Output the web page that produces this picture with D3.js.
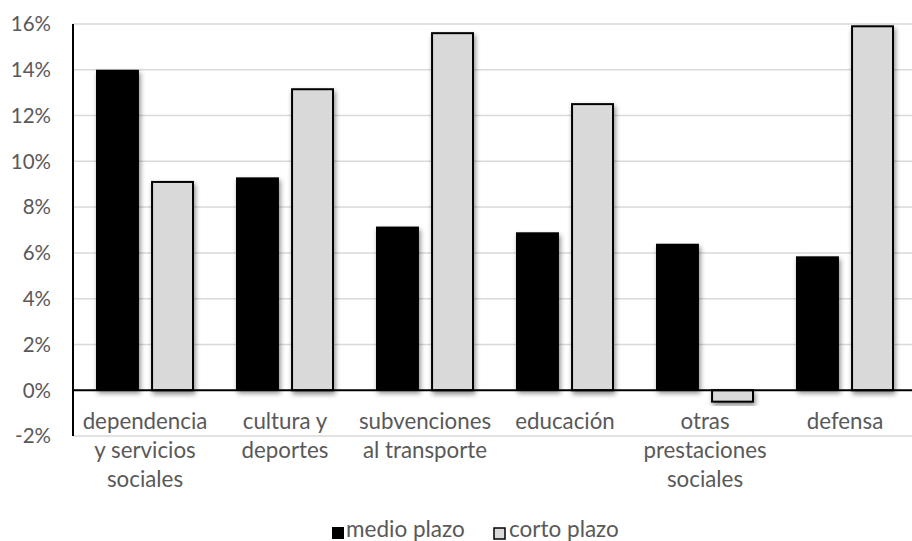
<!DOCTYPE html>
<html>
<head>
<meta charset="utf-8">
<script src="https://cdn.jsdelivr.net/npm/d3@7/dist/d3.min.js"></script>
<style>
  body { margin: 0; background: #fff; }
  text { font-family: Lato, "Open Sans", sans-serif; fill: #595959; }
</style>
</head>
<body>
<div id="chart"></div>
<script>
// data
const categories = [
  ["dependencia", "y servicios", "sociales"],
  ["cultura y", "deportes"],
  ["subvenciones", "al transporte"],
  ["educación"],
  ["otras", "prestaciones", "sociales"],
  ["defensa"]
];
const seriesNames = ["medio plazo", "corto plazo"];
const medioPlazo = [14.0, 9.3, 7.15, 6.9, 6.4, 5.85];
const cortoPlazo = [9.1, 13.15, 15.6, 12.5, -0.5, 15.9];
const yTicks = [-2, 0, 2, 4, 6, 8, 10, 12, 14, 16];

const W = 912, H = 541;
const margin = {top: 24, right: 0, bottom: 105, left: 73};

const svg = d3.select("#chart").append("svg")
  .attr("width", W).attr("height", H);

const defs = svg.append("defs");
const f = defs.append("filter").attr("id", "shadow")
  .attr("x", "-20%").attr("y", "-20%").attr("width", "150%").attr("height", "150%");
f.append("feDropShadow").attr("dx", 1.5).attr("dy", 3).attr("stdDeviation", 2.5)
  .attr("flood-color", "#000").attr("flood-opacity", 0.45);

var y = d3.scaleLinear().domain([-2, 16]).range([436, 24]);
var x0 = d3.scaleBand().domain(d3.range(categories.length))
  .range([margin.left, margin.left + 140 * 6]);
var x1 = d3.scaleBand().domain(seriesNames).range([23, 121]).paddingInner(0.22);

// gridlines
svg.append("g").selectAll("line").data(yTicks).enter().append("line")
  .attr("x1", margin.left).attr("x2", W)
  .attr("y1", d => y(d)).attr("y2", d => y(d))
  .attr("stroke", "#d9d9d9").attr("stroke-width", 1.5);

// y tick labels
svg.append("g").selectAll("text").data(yTicks).enter().append("text")
  .attr("x", 51).attr("y", d => y(d)).attr("dy", "0.36em")
  .attr("text-anchor", "end").style("font-size", "20.5px")
  .text(d => d + "%");

// bars
var groups = svg.append("g").selectAll("g").data(categories).enter().append("g")
  .attr("transform", (d, i) => "translate(" + x0(i) + ",0)");

groups.append("rect")
  .attr("x", x1("medio plazo")).attr("width", x1.bandwidth())
  .attr("y", (d, i) => y(Math.max(0, medioPlazo[i])))
  .attr("height", (d, i) => Math.abs(y(medioPlazo[i]) - y(0)))
  .attr("fill", "#000").attr("filter", "url(#shadow)");

groups.append("rect")
  .attr("x", x1("corto plazo") + 1).attr("width", x1.bandwidth() - 2)
  .attr("y", (d, i) => y(Math.max(0, cortoPlazo[i])))
  .attr("height", (d, i) => Math.abs(y(cortoPlazo[i]) - y(0)))
  .attr("fill", "#d9d9d9").attr("stroke", "#000").attr("stroke-width", 2)
  .attr("filter", "url(#shadow)");

// zero line and y axis line
svg.append("line").attr("x1", margin.left).attr("x2", W)
  .attr("y1", y(0)).attr("y2", y(0)).attr("stroke", "#000").attr("stroke-width", 2);
svg.append("line").attr("x1", margin.left).attr("x2", margin.left)
  .attr("y1", y(16)).attr("y2", y(-2)).attr("stroke", "#000").attr("stroke-width", 2);

// category labels
groups.append("text")
  .attr("text-anchor", "middle").style("font-size", "22.3px")
  .attr("transform", "translate(72,429)")
  .selectAll("tspan").data(d => d).enter().append("tspan")
  .attr("x", 0).attr("y", (d, i) => i * 29)
  .text(d => d);

// legend
var legend = svg.append("g");
legend.append("rect").attr("x", 332).attr("y", 527).attr("width", 12).attr("height", 12)
  .attr("fill", "#000");
legend.append("text").attr("x", 346).attr("y", 537)
  .style("font-size", "22.5px").text(seriesNames[0]);
legend.append("rect").attr("x", 494).attr("y", 528).attr("width", 11).attr("height", 11)
  .attr("fill", "#d9d9d9").attr("stroke", "#000").attr("stroke-width", 1.5);
legend.append("text").attr("x", 509).attr("y", 537)
  .style("font-size", "22.5px").text(seriesNames[1]);
</script>
</body>
</html>
